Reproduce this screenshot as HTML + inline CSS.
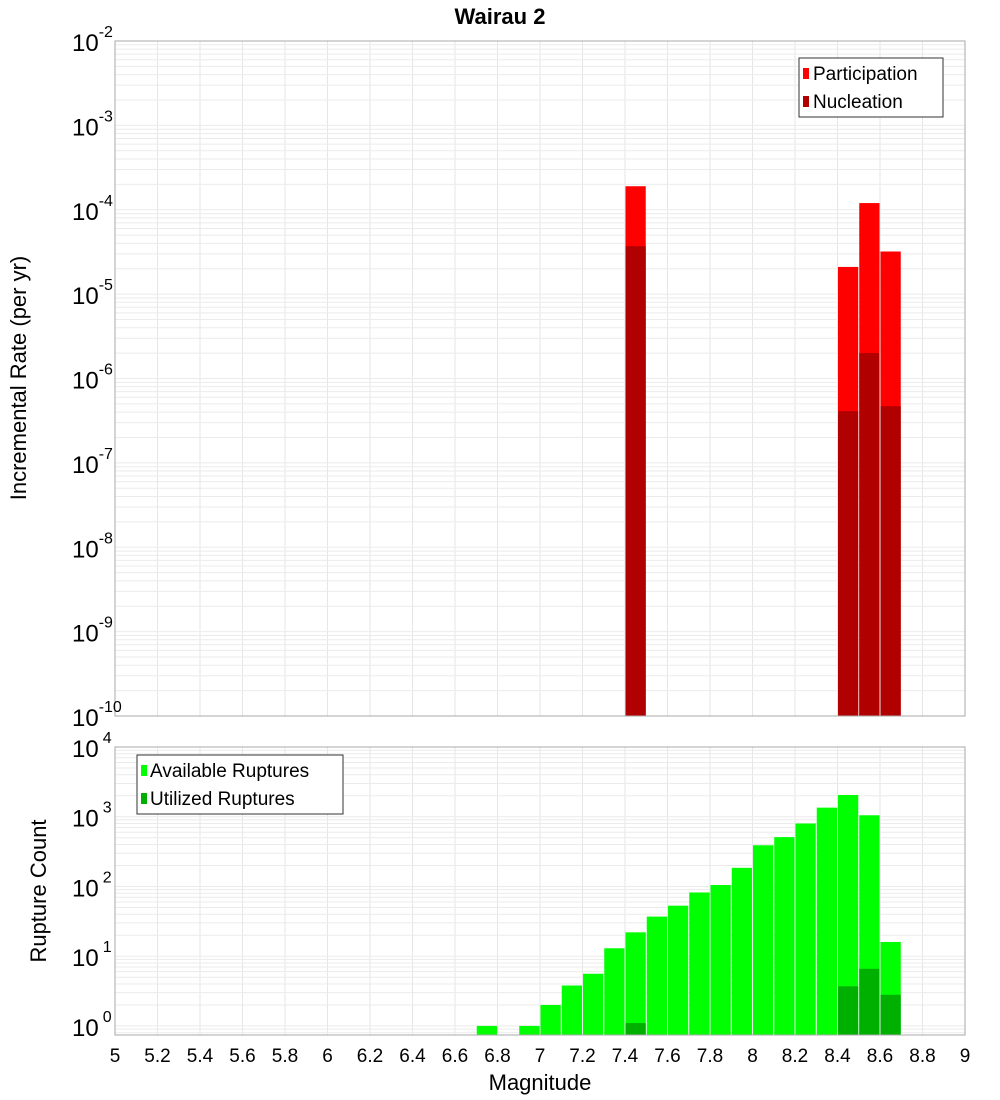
<!DOCTYPE html>
<html><head><meta charset="utf-8"><style>
body{margin:0;background:#fff;}
svg{display:block;font-family:"Liberation Sans","DejaVu Sans",sans-serif;}
</style></head><body>
<svg id="c" width="1000" height="1100" xmlns="http://www.w3.org/2000/svg"></svg>
<script>
const magBins=[7.45,8.45,8.55,8.65];
const participation=[1.9e-4,2.1e-5,1.2e-4,3.2e-5];
const nucleation=[3.7e-5,4.1e-7,2.0e-6,4.7e-7];
const countBins=[6.75,6.95,7.05,7.15,7.25,7.35,7.45,7.55,7.65,7.75,7.85,7.95,8.05,8.15,8.25,8.35,8.45,8.55,8.65];
const available=[1,1,2,3.8,5.6,13,22,37,53,82,105,185,390,510,800,1350,2050,1050,16];
const utilBins=[7.45,8.45,8.55,8.65];
const utilized=[1.1,3.7,6.6,2.8];
const xTicks=[5,5.2,5.4,5.6,5.8,6,6.2,6.4,6.6,6.8,7,7.2,7.4,7.6,7.8,8,8.2,8.4,8.6,8.8,9];
const topExps=[-2,-3,-4,-5,-6,-7,-8,-9,-10];
const botExps=[4,3,2,1,0];

const NS="http://www.w3.org/2000/svg";
const svg=document.getElementById('c');
function mk(t,a,p){const e=document.createElementNS(NS,t);for(const k in a)e.setAttribute(k,a[k]);(p||svg).appendChild(e);return e;}
const X0=115,X1=965;
const xs=v=>X0+(v-5)/(9-5)*(X1-X0);
const T0=41,T1=716,tMin=-10,tMax=-2;
const ysT=v=>T1-(Math.log10(v)-tMin)/(tMax-tMin)*(T1-T0);
const B0=747,B1=1035,bMin=-0.13,bMax=4.0;
const ysB=v=>B1-(Math.log10(v)-bMin)/(bMax-bMin)*(B1-B0);

function grid(y0,y1,lmin,lmax,ys){
  const g=mk('g',{});
  
  
  xTicks.forEach(t=>{const x=xs(t);mk('line',{x1:x,x2:x,y1:y0,y2:y1,stroke:'#e6e6e6','stroke-width':1},g);});
  for(let e=Math.floor(lmin);e<=Math.ceil(lmax);e++){for(let m=1;m<10;m++){const v=m*Math.pow(10,e);const l=Math.log10(v);if(l<lmin||l>lmax)continue;const y=ys(v);mk('line',{x1:X0,x2:X1,y1:y,y2:y,stroke:'#ebebeb','stroke-width':1},g);}}
}
grid(T0,T1,tMin,tMax,ysT);
grid(B0,B1,bMin,bMax,ysB);

const bw=(xs(0.1)-xs(0))-1;
magBins.forEach((m,i)=>{
  const x=xs(m)-bw/2;
  let r=mk('rect',{x:x,y:ysT(participation[i]),width:bw,height:T1-ysT(participation[i]),fill:'#ff0000'});
  
  
  r=mk('rect',{x:x,y:ysT(nucleation[i]),width:bw,height:T1-ysT(nucleation[i]),fill:'#b00000'});
  
  
});
countBins.forEach((m,i)=>{
  const x=xs(m)-bw/2;
  const r=mk('rect',{x:x,y:ysB(available[i]),width:bw,height:B1-ysB(available[i]),fill:'#00ff00'});
  
  
});
utilBins.forEach((m,i)=>{
  const x=xs(m)-bw/2;
  const r=mk('rect',{x:x,y:ysB(utilized[i]),width:bw,height:B1-ysB(utilized[i]),fill:'#00b000'});
  
  
});

mk('rect',{x:X0,y:T0,width:X1-X0,height:T1-T0,fill:'none',stroke:'#aaa'});
mk('rect',{x:X0,y:B0,width:X1-X0,height:B1-B0,fill:'none',stroke:'#aaa'});

topExps.forEach(e=>{
  const y=ysT(Math.pow(10,e));
  const t=mk('text',{x:72,y:y+10,'font-size':24,fill:'#000'});
  
  
  t.textContent='10';
  const s=mk('tspan',{dy:-14,'font-size':16},t);s.textContent=String(e);
});
botExps.forEach(e=>{
  const y=ysB(Math.pow(10,e));
  const t=mk('text',{x:72,y:y+10,'font-size':24,fill:'#000'});
  
  
  t.textContent='10';
  const s=mk('tspan',{dx:4,dy:-14,'font-size':16},t);s.textContent=String(e);
});
xTicks.forEach(v=>{
  const t=mk('text',{x:xs(v),y:1062,'font-size':19,'text-anchor':'middle',fill:'#000'});
  
  
  t.textContent=String(v);
});
</script>
<svg width="1000" height="1100" style="position:absolute;left:0;top:0" xmlns="http://www.w3.org/2000/svg" font-family="Liberation Sans, DejaVu Sans, sans-serif">
<text x="500" y="24" font-size="22" font-weight="bold" text-anchor="middle">Wairau 2</text>
<text transform="translate(26,378) rotate(-90)" font-size="22" text-anchor="middle">Incremental Rate (per yr)</text>
<text transform="translate(46,891) rotate(-90)" font-size="22" text-anchor="middle">Rupture Count</text>
<text x="540" y="1090" font-size="22" text-anchor="middle">Magnitude</text>
<g>
<rect x="799" y="58" width="144" height="59" fill="#fff" stroke="#333"/>
<rect x="803" y="68" width="6" height="11" fill="#ff0000"/>
<text x="813" y="80" font-size="19">Participation</text>
<rect x="803" y="96" width="6" height="11" fill="#b00000"/>
<text x="813" y="108" font-size="19">Nucleation</text>
</g>
<g>
<rect x="137" y="755" width="206" height="59" fill="#fff" stroke="#333"/>
<rect x="141" y="765" width="6" height="11" fill="#00ff00"/>
<text x="150" y="777" font-size="19">Available Ruptures</text>
<rect x="141" y="793" width="6" height="11" fill="#00b000"/>
<text x="150" y="805" font-size="19">Utilized Ruptures</text>
</g>
</svg>
</body></html>
